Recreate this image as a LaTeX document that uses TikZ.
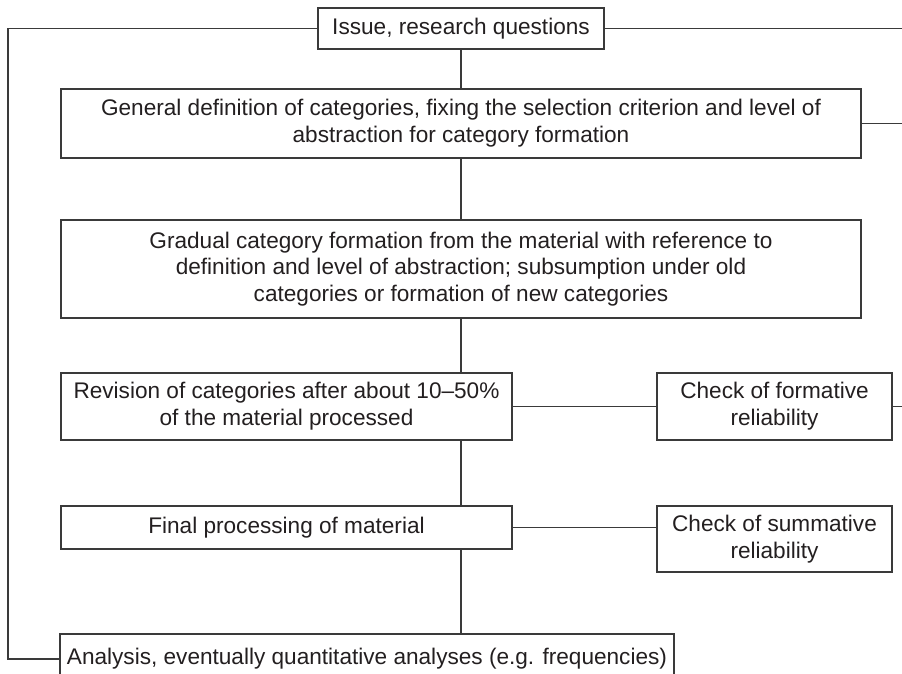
\documentclass[tikz,border=0pt]{standalone}
\usepackage{fontspec}
\setmainfont{Liberation Sans}
\definecolor{ink}{HTML}{231F20}
\definecolor{edge}{HTML}{3A3A3A}

\begin{document}
\begin{tikzpicture}[x=1pt,y=-1pt, bx/.style={draw=edge, line width=1.2pt, fill=white, inner sep=0pt, align=center, text=ink, font=\fontsize{22.6}{26.8}\selectfont},
  ln/.style={draw=edge, line width=1.2pt}]
  \useasboundingbox (0,0) rectangle (902,674);
  \clip (0,0) rectangle (902,674);
  \coordinate (lft) at (8,0); \coordinate (rgt) at (902,0);
  \node[bx, minimum width=286, minimum height=41] (issue) at (461,28.5) {Issue, research questions};
  \node[bx, minimum width=800, minimum height=69] (defn) at (461,123.5) {General definition of categories, fixing the selection criterion and level of\\ abstraction for category formation};
  \node[bx, minimum width=800, minimum height=98] (grad) at (461,269) {Gradual category formation from the material with reference to\\ definition and level of abstraction; subsumption under old\\ categories or formation of new categories};
  \node[bx, minimum width=451, minimum height=67] (rev) at (286.5,406.5) {Revision of categories after about 10--50\%\\ of the material processed};
  \node[bx, minimum width=235, minimum height=67] (form) at (774.5,406.5) {Check of formative\\ reliability};
  \node[bx, minimum width=451, minimum height=43] (fin) at (286.5,527.5) {Final processing of material};
  \node[bx, minimum width=235, minimum height=66] (summ) at (774.5,539) {Check of summative\\ reliability};
  \node[bx, minimum width=614, minimum height=50] (ana) at (367,659) {Analysis, eventually quantitative analyses (e.g. frequencies)};
  % main line down the middle
  \foreach \a/\b in {issue/defn, defn/grad} {\draw[ln] (\a.south) -- (\b.north);}
  \draw[ln] (grad.south) -- (grad.south |- rev.north);
  \draw[ln] (grad.south |- rev.south) -- (grad.south |- fin.north);
  \draw[ln] (grad.south |- fin.south) -- (grad.south |- ana.north);
  % side checks
  \draw[ln] (rev.east) -- (form.west);
  \draw[ln] (fin.east) -- (fin.east -| summ.west);
  % loops
  \draw[ln] (issue.west) -- (issue.west -| lft) |- (ana.west);
  \foreach \n in {issue,defn,form} {\draw[ln] (\n.east) -- (\n.east -| rgt);}
\end{tikzpicture}
\end{document}
